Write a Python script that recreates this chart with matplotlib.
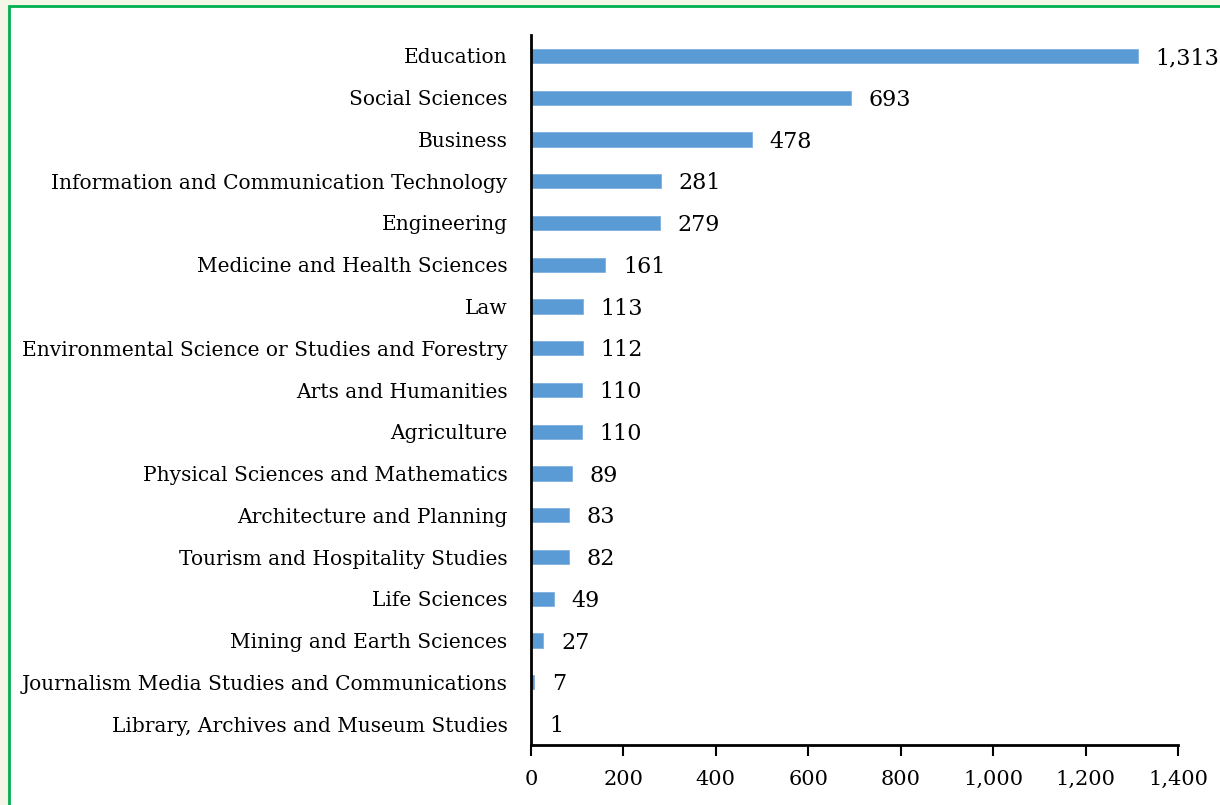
import matplotlib.pyplot as plt
from matplotlib.patches import Rectangle

categories = [
    "Education",
    "Social Sciences",
    "Business",
    "Information and Communication Technology",
    "Engineering",
    "Medicine and Health Sciences",
    "Law",
    "Environmental Science or Studies and Forestry",
    "Arts and Humanities",
    "Agriculture",
    "Physical Sciences and Mathematics",
    "Architecture and Planning",
    "Tourism and Hospitality Studies",
    "Life Sciences",
    "Mining and Earth Sciences",
    "Journalism Media Studies and Communications",
    "Library, Archives and Museum Studies",
]
counts = [1313, 693, 478, 281, 279, 161, 113, 112, 110, 110, 89, 83, 82, 49, 27, 7, 1]
xticks = [0, 200, 400, 600, 800, 1000, 1200, 1400]

plt.rcParams['font.family'] = ['DejaVu Serif']

fig = plt.figure(figsize=(12.2, 8.05), dpi=100, facecolor='#f5f7e6')
# white panel with the green frame, behind the axes
fig.patches.append(Rectangle((9 / 1220, -0.1), 1.2, (805 - 6) / 805 + 0.1,
                             transform=fig.transFigure, facecolor='white',
                             edgecolor='#00b050', linewidth=2, zorder=-5))

ax = fig.add_axes([531 / 1220, 1 - 745 / 805, 647 / 1220, 710 / 805])
ax.set_facecolor('none')

pos = list(range(len(categories)))
ax.barh(pos, counts, height=0.34, color='#5b9bd5', edgecolor='#7fb0e0', linewidth=0.6)
ax.set_ylim(len(categories) - 0.5, -0.5)
ax.set_xlim(0, 1400)

ax.set_yticks(pos)
ax.set_yticklabels(categories, fontsize=14.5)
ax.tick_params(axis='y', length=0, pad=17)
ax.set_xticks(xticks)
ax.set_xticklabels([f"{v:,}" for v in xticks], fontsize=15)
ax.tick_params(axis='x', length=8, width=1.5, direction='out', pad=10)

for s in ['top', 'right']:
    ax.spines[s].set_visible(False)
ax.spines['left'].set_linewidth(2)
ax.spines['bottom'].set_linewidth(2)

for p, v in zip(pos, counts):
    ax.text(v + 38, p + 0.05, f"{v:,}", va='center', ha='left', fontsize=16)

fig.savefig('out.png', dpi=100, facecolor=fig.get_facecolor())
